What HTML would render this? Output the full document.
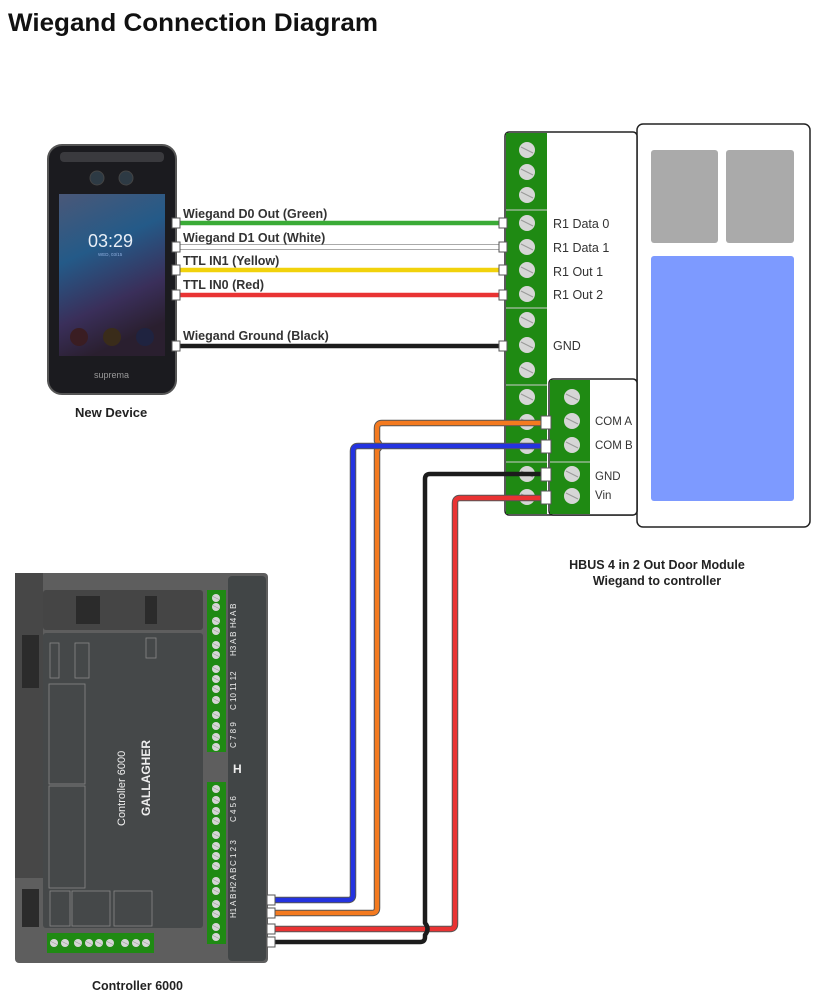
<!DOCTYPE html>
<html><head><meta charset="utf-8"><style>
html,body{margin:0;padding:0;background:#fff;}
svg{display:block;}
text{font-family:"Liberation Sans",sans-serif;}
</style></head><body>
<svg width="815" height="1006" viewBox="0 0 815 1006" xmlns="http://www.w3.org/2000/svg">
<defs>
<linearGradient id="scr" x1="0" y1="0" x2="0.3" y2="1">
<stop offset="0" stop-color="#4a5878"/><stop offset="0.4" stop-color="#245a88"/><stop offset="0.75" stop-color="#3a2f5a"/><stop offset="1" stop-color="#2a1f2f"/></linearGradient>
<g id="sc"><circle r="8" fill="#d6d6d6"/><line x1="-6" y1="-3" x2="6" y2="3" stroke="#999" stroke-width="1"/></g>
<g id="ss"><circle r="4" fill="#d6d6d6"/><line x1="-3" y1="-1.5" x2="3" y2="1.5" stroke="#999" stroke-width="0.6"/></g>
</defs>
<text x="8" y="31" font-size="25" font-weight="bold" fill="#111" textLength="370" lengthAdjust="spacingAndGlyphs">Wiegand Connection Diagram</text>

<!-- Device -->
<rect x="48" y="145" width="128" height="249" rx="14" fill="#1b1b1f" stroke="#555" stroke-width="2"/>
<rect x="60" y="152" width="104" height="10" rx="4" fill="#3a3a3e"/>
<circle cx="97" cy="178" r="7" fill="#2d3a44" stroke="#444"/>
<circle cx="126" cy="178" r="7" fill="#2d3a44" stroke="#444"/>
<rect x="59" y="194" width="106" height="162" fill="url(#scr)"/>
<text x="88" y="247" font-size="18" fill="#e8eef6">03:29</text>
<text x="98" y="256" font-size="4.5" fill="#8fb0e0">WED, 03/15</text>
<circle cx="79" cy="337" r="9" fill="#3a1d22"/><circle cx="112" cy="337" r="9" fill="#3a2c1a"/><circle cx="145" cy="337" r="9" fill="#1f2340"/>
<text x="94" y="378" font-size="9" fill="#999">suprema</text>
<text x="75" y="417" font-size="13" font-weight="bold" fill="#222">New Device</text>

<!-- Device wires -->
<g stroke-width="4.5" fill="none">
<line x1="178" y1="223" x2="505" y2="223" stroke="#3aab36"/>
<line x1="178" y1="247" x2="505" y2="247" stroke="#fff"/>
<line x1="178" y1="244.5" x2="505" y2="244.5" stroke="#aaa" stroke-width="1"/>
<line x1="178" y1="249.5" x2="505" y2="249.5" stroke="#aaa" stroke-width="1"/>
<line x1="178" y1="270" x2="505" y2="270" stroke="#f1d20c"/>
<line x1="178" y1="295" x2="505" y2="295" stroke="#e93333"/>
<line x1="178" y1="346" x2="505" y2="346" stroke="#1c1c1c"/>
</g>

<!-- Module -->
<rect x="637" y="124" width="173" height="403" rx="6" fill="#fff" stroke="#222" stroke-width="1.5"/>
<rect x="651" y="150" width="67" height="93" rx="3" fill="#aaa"/>
<rect x="726" y="150" width="68" height="93" rx="3" fill="#aaa"/>
<rect x="651" y="256" width="143" height="245" rx="3" fill="#7d9aff"/>
<rect x="505" y="132" width="132" height="383" rx="4" fill="#fff" stroke="#222" stroke-width="1.5"/>
<rect x="506" y="133" width="41" height="381" fill="#1f8a13"/>
<g stroke="#ccc" stroke-width="1"><line x1="506" y1="210" x2="547" y2="210"/><line x1="506" y1="308" x2="547" y2="308"/><line x1="506" y1="385" x2="547" y2="385"/><line x1="506" y1="462" x2="547" y2="462"/></g>
<g>
<use href="#sc" x="527" y="150"/><use href="#sc" x="527" y="172"/><use href="#sc" x="527" y="195"/>
<use href="#sc" x="527" y="223"/><use href="#sc" x="527" y="247"/><use href="#sc" x="527" y="270"/><use href="#sc" x="527" y="294"/>
<use href="#sc" x="527" y="320"/><use href="#sc" x="527" y="345"/><use href="#sc" x="527" y="370"/>
<use href="#sc" x="527" y="397"/><use href="#sc" x="527" y="422"/><use href="#sc" x="527" y="446"/>
<use href="#sc" x="527" y="474"/><use href="#sc" x="527" y="497"/>
</g>
<g fill="#fff" stroke="#555" stroke-width="1">
<rect x="172" y="218" width="8" height="10"/><rect x="172" y="242" width="8" height="10"/><rect x="172" y="265" width="8" height="10"/><rect x="172" y="290" width="8" height="10"/><rect x="172" y="341" width="8" height="10"/>
<rect x="499" y="218" width="8" height="10"/><rect x="499" y="242" width="8" height="10"/><rect x="499" y="265" width="8" height="10"/><rect x="499" y="290" width="8" height="10"/><rect x="499" y="341" width="8" height="10"/>
</g>
<g font-size="12.5" font-weight="bold" fill="#333">
<text x="183" y="218">Wiegand D0 Out (Green)</text>
<text x="183" y="242">Wiegand D1 Out (White)</text>
<text x="183" y="265">TTL IN1 (Yellow)</text>
<text x="183" y="289">TTL IN0 (Red)</text>
<text x="183" y="340">Wiegand Ground (Black)</text>
</g>
<rect x="549" y="379" width="88" height="136" rx="4" fill="#fff" stroke="#222" stroke-width="1.5"/>
<rect x="550" y="380" width="40" height="134" fill="#1f8a13"/>
<line x1="550" y1="462" x2="590" y2="462" stroke="#ccc"/>
<g><use href="#sc" x="572" y="397"/><use href="#sc" x="572" y="421"/><use href="#sc" x="572" y="445"/><use href="#sc" x="572" y="474"/><use href="#sc" x="572" y="496"/></g>
<g font-size="12.5" fill="#333">
<text x="553" y="228">R1 Data 0</text><text x="553" y="252">R1 Data 1</text><text x="553" y="276">R1 Out 1</text><text x="553" y="299">R1 Out 2</text><text x="553" y="350">GND</text>
</g>
<g font-size="11.5" fill="#333"><text x="595" y="425">COM A</text><text x="595" y="449">COM B</text><text x="595" y="480">GND</text><text x="595" y="499">Vin</text></g>
<g font-size="12.5" font-weight="bold" fill="#222" text-anchor="middle"><text x="657" y="569">HBUS 4 in 2 Out Door Module</text><text x="657" y="585">Wiegand to controller</text></g>

<!-- Controller -->
<rect x="15" y="573" width="253" height="390" rx="4" fill="#5e5e5e"/>
<rect x="15" y="573" width="28" height="305" fill="#474747"/>
<rect x="228" y="576" width="38" height="385" rx="4" fill="#414546"/>
<rect x="43" y="590" width="160" height="40" rx="3" fill="#454545"/>
<rect x="76" y="596" width="24" height="28" fill="#2b2b2b"/><rect x="145" y="596" width="12" height="28" fill="#2b2b2b"/>
<rect x="43" y="633" width="160" height="295" rx="3" fill="#454849"/>
<rect x="22" y="635" width="17" height="53" fill="#2b2b2b"/><rect x="22" y="889" width="17" height="38" fill="#2b2b2b"/>
<g fill="none" stroke="#888" stroke-width="0.8">
<rect x="49" y="684" width="36" height="100"/><rect x="49" y="786" width="36" height="102"/>
<rect x="50" y="643" width="9" height="35"/><rect x="75" y="643" width="14" height="35"/><rect x="146" y="638" width="10" height="20"/>
<rect x="50" y="891" width="20" height="35"/><rect x="72" y="891" width="38" height="35"/><rect x="114" y="891" width="38" height="35"/>
</g>
<text transform="translate(125,826) rotate(-90)" font-size="11" fill="#eee">Controller 6000</text>
<text transform="translate(150,816) rotate(-90)" font-size="12" font-weight="bold" fill="#eee">GALLAGHER</text>
<rect x="207" y="590" width="19" height="162" fill="#1f8a13"/>
<rect x="207" y="782" width="19" height="162" fill="#1f8a13"/>
<g>
<use href="#ss" x="216" y="598"/><use href="#ss" x="216" y="607"/><use href="#ss" x="216" y="621"/><use href="#ss" x="216" y="631"/><use href="#ss" x="216" y="645"/><use href="#ss" x="216" y="655"/><use href="#ss" x="216" y="669"/><use href="#ss" x="216" y="679"/><use href="#ss" x="216" y="689"/><use href="#ss" x="216" y="700"/><use href="#ss" x="216" y="715"/><use href="#ss" x="216" y="726"/><use href="#ss" x="216" y="737"/><use href="#ss" x="216" y="747"/>
<use href="#ss" x="216" y="789"/><use href="#ss" x="216" y="800"/><use href="#ss" x="216" y="811"/><use href="#ss" x="216" y="821"/><use href="#ss" x="216" y="835"/><use href="#ss" x="216" y="846"/><use href="#ss" x="216" y="856"/><use href="#ss" x="216" y="866"/><use href="#ss" x="216" y="881"/><use href="#ss" x="216" y="891"/><use href="#ss" x="216" y="904"/><use href="#ss" x="216" y="914"/><use href="#ss" x="216" y="927"/><use href="#ss" x="216" y="937"/>
</g>
<rect x="47" y="933" width="107" height="20" fill="#1f8a13"/>
<g><use href="#ss" x="54" y="943"/><use href="#ss" x="65" y="943"/><use href="#ss" x="78" y="943"/><use href="#ss" x="89" y="943"/><use href="#ss" x="99" y="943"/><use href="#ss" x="110" y="943"/><use href="#ss" x="125" y="943"/><use href="#ss" x="136" y="943"/><use href="#ss" x="146" y="943"/></g>
<g font-size="8" fill="#eee"><text x="233" y="773" font-size="12" font-weight="bold">H</text><text transform="translate(236,628) rotate(-90)">H4 A B</text><text transform="translate(236,656) rotate(-90)">H3 A B</text><text transform="translate(236,710) rotate(-90)">C 10 11 12</text><text transform="translate(236,748) rotate(-90)">C 7 8 9</text><text transform="translate(236,822) rotate(-90)">C 4 5 6</text><text transform="translate(236,866) rotate(-90)">C 1 2 3</text><text transform="translate(236,892) rotate(-90)">H2 A B</text><text transform="translate(236,918) rotate(-90)">H1 A B</text></g>
<text x="92" y="990" font-size="12.5" font-weight="bold" fill="#222">Controller 6000</text>

<!-- Controller wires -->
<g fill="none" stroke-width="4.5" stroke-linejoin="round">
<path d="M272 913 H372 Q377 913 377 908 V450 Q382 446 377 441 V428 Q377 423 382 423 H545" stroke="#555" stroke-width="6.5"/>
<path d="M272 913 H372 Q377 913 377 908 V450 Q382 446 377 441 V428 Q377 423 382 423 H545" stroke="#f47a1f"/>
<path d="M272 900 H348 Q353 900 353 895 V451 Q353 446 358 446 H545" stroke="#555" stroke-width="6.5"/>
<path d="M272 900 H348 Q353 900 353 895 V451 Q353 446 358 446 H545" stroke="#2433e0"/>
<path d="M272 929 H450 Q455 929 455 924 V503 Q455 498 460 498 H545" stroke="#555" stroke-width="6.5"/>
<path d="M272 929 H450 Q455 929 455 924 V503 Q455 498 460 498 H545" stroke="#e93333"/>
<path d="M272 942 H420 Q425 942 425 937 V935 Q430 929 425 923 V479 Q425 474 430 474 H545" stroke="#1c1c1c"/>
</g>
<g fill="#fff" stroke="#555" stroke-width="1">
<rect x="267" y="895" width="8" height="10"/><rect x="267" y="908" width="8" height="10"/><rect x="267" y="924" width="8" height="10"/><rect x="267" y="937" width="8" height="10"/>
<rect x="541" y="416" width="10" height="13"/><rect x="541" y="440" width="10" height="13"/><rect x="541" y="468" width="10" height="13"/><rect x="541" y="491" width="10" height="13"/>
</g>
</svg>
</body></html>
